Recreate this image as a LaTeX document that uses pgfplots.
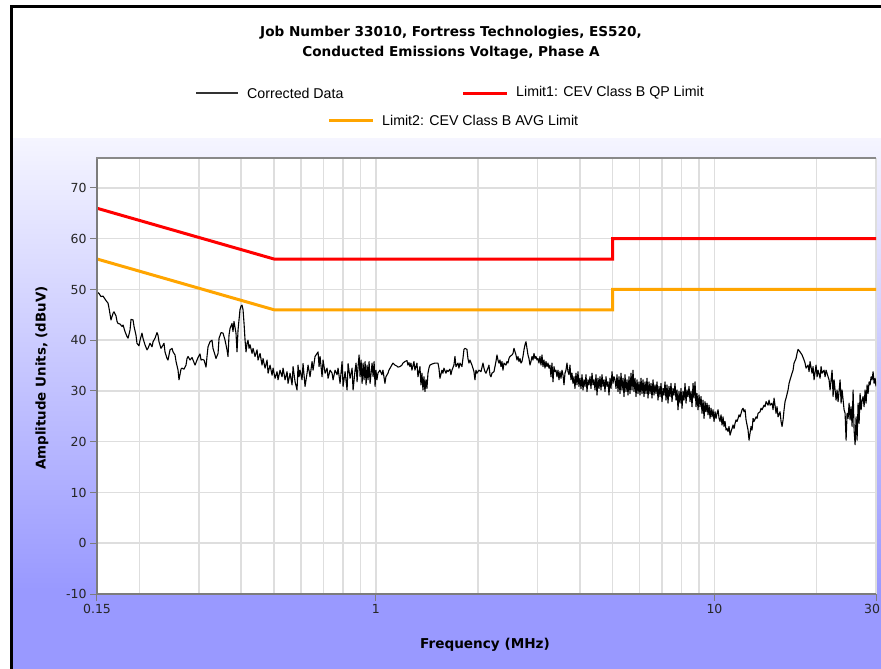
\documentclass[border=0pt]{standalone}
\usepackage{fontspec}
\setmainfont{Liberation Sans}
\newfontfamily\dvs{DejaVu Sans}
\usepackage{pgfplots}
\pgfplotsset{compat=1.18}

\definecolor{qpred}{HTML}{FF0000}
\definecolor{avgorange}{HTML}{FFA500}
\definecolor{gridgray}{HTML}{DEDEDE}
\definecolor{axgray}{HTML}{7C7C7C}
\definecolor{bgtop}{HTML}{F5F5FF}
\definecolor{bgbot}{HTML}{9999FF}

\begin{document}
\begin{tikzpicture}[x=1pt,y=1pt]
\useasboundingbox (0,0) rectangle (881,-669);
\begin{scope}
\clip (0,0) rectangle (881,-669);
\fill[white] (0,0) rectangle (881,-669);
% gradient panel below the legend
\shade[top color=bgtop, bottom color=bgbot] (13,-138) rectangle (881,-590);
\fill[bgbot] (13,-590) rectangle (881,-669);
% frame
\fill[black] (10,-5.5) rectangle (881,-8.5);
\fill[black] (10,-5.5) rectangle (13,-669);

% title
\node[font=\dvs\bfseries\fontsize{13.6}{20}\selectfont, align=center] at (451,-43)
  {Job Number 33010, Fortress Technologies, ES520,\\Conducted Emissions Voltage, Phase A};

% legend
\draw[black!80, line width=1.6pt] (196,-93) -- (238,-93);
\node[anchor=west, inner sep=0pt, font=\fontsize{14.2}{16}\selectfont] at (247,-93) {Corrected Data};
\draw[qpred, line width=3pt] (463,-93) -- (507,-93);
\node[anchor=west, inner sep=0pt, font=\fontsize{14.2}{16}\selectfont] at (516,-93) {Limit1: CEV Class B QP Limit};
\draw[avgorange, line width=3pt] (329,-120) -- (373,-120);
\node[anchor=west, inner sep=0pt, font=\fontsize{14.2}{16}\selectfont] at (382,-120) {Limit2: CEV Class B AVG Limit};

% axis labels
\node[font=\dvs\bfseries\fontsize{13.4}{16}\selectfont, rotate=90] at (42,-378) {Amplitude Units, (dBuV)};
\node[font=\dvs\bfseries\fontsize{13.6}{16}\selectfont] at (485,-645) {Frequency (MHz)};

\begin{axis}[
  at={(97pt,-594pt)}, anchor=south west,
  width=779pt, height=436pt, scale only axis,
  xmode=log,
  xmin=0.15, xmax=30, ymin=-10, ymax=75.9,
  xtick={0.15,1,10}, xticklabels={0.15,1,10},
  extra x ticks={30}, extra x tick labels={30},
  extra x tick style={xticklabel style={xshift=-4pt}},
  minor xtick={0.2,0.3,0.4,0.5,0.6,0.7,0.8,0.9,2,3,4,5,6,7,8,9,20},
  ytick={-10,0,10,20,30,40,50,60,70},
  yticklabels={-10,0,10,20,30,40,50,60,70},
  xmajorgrids, xminorgrids, ymajorgrids,
  major grid style={gridgray, line width=1.5pt},
  minor grid style={gridgray, line width=1.5pt},
  axis line style={draw=none},
  axis background/.style={fill=white},
  tick align=outside, xtick pos=bottom, ytick pos=left,
  major tick length=7pt, minor tick length=0pt,
  tick style={axgray, line width=1pt},
  ticklabel style={font=\dvs\fontsize{12.5}{14}\selectfont, text=black!85},
  /pgf/number format/assume math mode=true,
]
% corrected data
\addplot[black, line width=1.1pt, line join=round] coordinates {
(0.1500,49.5) (0.1521,49.2) (0.1541,48.6) (0.1563,48.7) (0.1595,47.8) (0.1617,47.3)
(0.1628,46.3) (0.1650,44.0) (0.1673,45.3) (0.1684,45.6) (0.1707,44.8) (0.1719,43.7)
(0.1731,43.3) (0.1754,43.2) (0.1779,42.7) (0.1791,43.0) (0.1815,41.7) (0.1840,40.7)
(0.1853,40.4) (0.1878,42.0) (0.1891,44.1) (0.1917,44.0) (0.1930,42.7) (0.1956,41.0)
(0.1969,39.4) (0.1996,38.9) (0.2010,40.0) (0.2037,41.4) (0.2051,40.4) (0.2079,39.1)
(0.2108,38.1) (0.2122,38.4) (0.2151,39.4) (0.2181,38.7) (0.2196,39.7) (0.2226,40.4)
(0.2256,41.5) (0.2271,41.0) (0.2287,39.7) (0.2318,38.4) (0.2334,38.7) (0.2366,39.4)
(0.2382,37.7) (0.2415,36.4) (0.2431,36.1) (0.2465,38.1) (0.2499,38.4) (0.2516,37.7)
(0.2550,37.1) (0.2568,35.8) (0.2603,34.1) (0.2620,32.2) (0.2656,34.3) (0.2674,34.5)
(0.2711,34.3) (0.2748,35.1) (0.2767,36.4) (0.2786,36.8) (0.2824,36.1) (0.2863,36.6)
(0.2882,36.1) (0.2922,35.1) (0.2942,35.6) (0.2982,36.6) (0.3023,37.3) (0.3044,36.1)
(0.3065,36.2) (0.3107,36.1) (0.3149,34.7) (0.3170,36.8) (0.3192,38.7) (0.3235,39.7)
(0.3280,40.0) (0.3302,38.4) (0.3347,37.1) (0.3370,36.4) (0.3417,37.4) (0.3441,40.4)
(0.3488,41.5) (0.3535,41.4) (0.3584,40.0)
(0.3632,38.1) (0.3657,36.8) (0.3682,41.0) (0.3707,42.3) (0.3758,43.3) (0.3783,41.7)
(0.3809,43.7) (0.3861,41.4) (0.3888,37.7) (0.3915,42.0) (0.3968,46.0) (0.3995,46.7)
(0.4023,46.9) (0.4050,46.0) (0.4078,43.3) (0.4106,40.0) (0.4134,37.7) (0.4162,39.4)
(0.4190,40.0) (0.4219,38.4) (0.4248,39.1) (0.4306,37.4) (0.4336,38.4) (0.4395,36.8)
(0.4455,38.1) (0.4485,36.1) (0.4547,37.4) (0.4609,35.1) (0.4641,36.4) (0.4704,34.5)
(0.4769,36.1) (0.4802,33.5) (0.4867,35.1) (0.4934,33.1) (0.4968,34.5) (0.5036,32.5)
(0.5104,33.8) (0.5139,32.2) (0.5209,34.1) (0.5281,32.8) (0.5317,34.5) (0.5390,32.2)
(0.5464,33.8) (0.5501,31.5) (0.5577,33.5) (0.5653,31.2) (0.5692,34.8) (0.5770,31.8)
(0.5848,30.2) (0.5888,35.1) (0.5928,32.8) (0.5969,34.1) (0.6050,32.2) (0.6092,35.4)
(0.6175,30.9) (0.6260,33.5) (0.6303,35.1) (0.6389,32.8) (0.6477,35.8) (0.6521,34.1)
(0.6610,36.8) (0.6701,37.4) (0.6747,37.7) (0.6793,34.8) (0.6839,36.8) (0.6933,32.8)
(0.6980,36.1) (0.7076,33.5) (0.7173,34.5) (0.7222,32.5) (0.7321,34.1) (0.7421,33.5)
(0.7472,32.2) (0.7574,34.1) (0.7678,33.2) (0.7730,34.5) (0.7836,31.5) (0.7944,35.8)
(0.7998,30.9) (0.8108,33.8) (0.8218,30.2) (0.8274,35.4) (0.8388,32.5) (0.8503,34.5)
(0.8561,30.2) (0.8678,34.1)
(0.8737,35.5) (0.8797,31.8) (0.8857,34.8) (0.8918,37.1) (0.8978,32.8) (0.9040,36.1)
(0.9102,31.5) (0.9164,35.5) (0.9226,32.2) (0.9289,35.8) (0.9353,31.2) (0.9416,35.1)
(0.9480,32.2) (0.9545,35.8) (0.9610,31.5) (0.9742,35.5) (0.9809,32.8) (0.9876,35.8)
(0.9943,30.9) (1.0000,34.1) (1.0068,32.2) (1.0137,33.5) (1.0276,34.1) (1.0417,33.2)
(1.0488,34.1) (1.0632,31.5) (1.0704,32.8) (1.0851,33.5) (1.0925,34.1) (1.1075,34.8)
(1.1226,35.5) (1.1380,35.1) (1.1536,34.9) (1.1615,34.7) (1.1774,34.8) (1.1936,35.1)
(1.2017,35.5) (1.2182,35.8) (1.2348,36.0) (1.2432,35.1) (1.2517,35.6) (1.2603,34.8)
(1.2689,35.5) (1.2775,34.1) (1.2950,35.8) (1.3039,34.1) (1.3218,35.5) (1.3308,32.8)
(1.3490,34.8) (1.3582,31.2) (1.3675,33.5) (1.3769,30.2) (1.3863,32.8) (1.3957,29.9)
(1.4052,32.2) (1.4148,30.5) (1.4245,33.5) (1.4342,34.5) (1.4440,35.1) (1.4638,35.3)
(1.4940,35.5) (1.5247,35.5) (1.5351,34.5) (1.5456,32.5) (1.5668,34.1) (1.5775,33.5)
(1.5883,34.5) (1.6100,33.5) (1.6210,34.1) (1.6321,33.8) (1.6544,34.3) (1.6657,33.2)
(1.6771,34.1) (1.7001,35.1) (1.7117,36.8) (1.7234,34.8) (1.7470,35.5) (1.7590,34.5)
(1.7710,35.5) (1.7952,34.8) (1.8075,36.4) (1.8199,38.2) (1.8323,38.4) (1.8573,38.2)
(1.8700,36.4) (1.8828,35.5) (1.8956,36.1) (1.9216,35.1) (1.9347,34.5) (1.9480,33.8)
(1.9612,32.2) (1.9746,34.1) (1.9881,33.5) (2.0153,34.1) (2.0430,33.8) (2.0710,35.5)
(2.0851,34.5)
(2.0994,33.8) (2.1136,33.5) (2.1426,34.5) (2.1572,35.1) (2.1719,33.2) (2.1868,32.8)
(2.2017,33.5) (2.2319,33.8) (2.2471,34.8) (2.2624,35.8) (2.2779,37.1) (2.2934,36.1)
(2.3091,35.5) (2.3248,36.1) (2.3407,34.8) (2.3567,35.8) (2.3728,34.1) (2.3890,35.5)
(2.4217,35.1) (2.4382,35.8) (2.4549,35.5) (2.4717,36.4) (2.4885,36.8) (2.5227,37.1)
(2.5399,37.4) (2.5572,38.4) (2.5922,37.1) (2.6099,36.1) (2.6277,36.8) (2.6457,35.8)
(2.6637,36.4) (2.6819,35.5) (2.7003,35.8) (2.7187,36.8) (2.7373,38.1) (2.7560,39.1)
(2.7747,39.7) (2.7937,38.4) (2.8127,37.1) (2.8319,36.4) (2.8513,35.1) (2.8708,35.8)
(2.8904,36.8) (2.9101,36.1) (2.9300,37.4) (2.9500,36.4) (2.9700,36.8) (2.9903,36.1)
(3.0107,36.4) (3.0313,35.5) (3.0520,36.8) (3.0728,35.1) (3.0938,37.1) (3.1149,34.8)
(3.1362,36.1) (3.1576,34.5) (3.1791,35.8) (3.2008,34.8) (3.2227,35.5) (3.2447,34.5)
(3.2668,35.1) (3.2892,32.8) (3.3116,35.5) (3.3343,31.8) (3.3570,34.8) (3.3800,33.8)
(3.4029,34.1) (3.4261,32.8) (3.4496,34.1) (3.4731,32.2) (3.4968,33.8) (3.5207,32.5)
(3.5448,34.1) (3.5690,33.2) (3.5934,31.2) (3.6179,33.5) (3.6425,34.1) (3.6674,35.5)
(3.6924,33.8) (3.7176,33.2) (3.7430,35.1) (3.7686,32.2) (3.7944,33.5) (3.8203,31.5)
(3.8464,32.8) (3.8726,30.5) (3.8990,33.5) (3.9256,31.2) (3.9525,33.8) (3.9794,30.9)
(4.0066,32.5) (4.0340,30.5) (4.0616,33.2) (4.0893,30.2) (4.1172,32.2) (4.1453,30.9)
(4.1734,33.2) (4.2019,29.9) (4.2306,32.2) (4.2595,31.2) (4.2886,32.8) (4.3179,30.5)
(4.3474,33.5) (4.3771,31.2) (4.4070,32.2) (4.4371,30.2) (4.4673,33.2) (4.4978,29.2)
(4.5285,32.5) (4.5595,30.5) (4.5906,32.8) (4.6220,30.2) (4.6535,33.2) (4.6853,30.9)
(4.7173,32.2) (4.7495,29.9) (4.7818,32.8) (4.8145,30.9) (4.8474,31.8) (4.8805,29.2)
(4.9138,32.5) (4.9473,30.5) (4.9812,33.8) (5.0152,31.5) (5.0494,32.8)
(5.0839,32.2) (5.1184,30.5) (5.1534,33.2) (5.1886,29.9) (5.2240,32.8) (5.2597,29.5)
(5.2956,33.5) (5.3318,30.2) (5.3682,32.5) (5.4049,28.9) (5.4418,33.2) (5.4788,29.9)
(5.5162,32.2) (5.5539,29.2) (5.5918,32.8) (5.6300,29.5) (5.6685,33.5) (5.7072,30.2)
(5.7462,34.1) (5.7854,29.9) (5.8250,32.5) (5.8645,28.9) (5.9046,32.2) (5.9449,29.5)
(5.9855,31.8) (6.0264,29.2) (6.0675,32.5) (6.1090,29.5) (6.1507,32.2) (6.1927,28.9)
(6.2350,31.8) (6.2774,29.5) (6.3203,32.5) (6.3635,28.6) (6.4069,31.8) (6.4507,29.5)
(6.4947,31.5) (6.5391,28.6) (6.5838,32.2) (6.6287,29.2) (6.6740,31.2) (6.7193,29.5)
(6.7652,31.8) (6.8114,28.2) (6.8579,30.9) (6.9048,28.9) (6.9519,31.5) (6.9994,27.9)
(7.0472,30.5) (7.0954,29.2) (7.1438,31.8) (7.1924,28.2) (7.2415,31.2) (7.2910,27.6)
(7.3408,30.9) (7.3909,28.9) (7.4414,31.5) (7.4923,27.9) (7.5434,30.5) (7.5950,29.2)
(7.6468,31.5) (7.6988,28.2) (7.7514,30.2) (7.8044,26.3) (7.8576,29.9) (7.9113,27.6)
(7.9653,30.5) (8.0198,26.6) (8.0745,29.9) (8.1297,28.2) (8.1852,31.5) (8.2408,27.6)
(8.2971,30.2) (8.3538,28.9) (8.4108,30.9) (8.4683,27.9) (8.5261,29.9) (8.5844,26.9)
(8.6430,31.5) (8.7020,28.6) (8.7615,31.8) (8.8209,26.9) (8.8811,29.5) (8.9418,26.3)
(9.0029,29.2) (9.0644,26.9) (9.1263,28.9) (9.1887,25.6) (9.2514,28.2) (9.3146,24.6)
(9.3782,27.9) (9.4420,25.9) (9.5065,27.6) (9.5714,25.3) (9.6368,27.2) (9.7026,24.6)
(9.7689,26.6) (9.8356,24.9) (9.9028,26.3) (9.9705,24.0) (10.039,25.9) (10.107,24.6)
(10.176,25.6) (10.246,26.3) (10.316,24.6) (10.386,24.0) (10.457,25.3) (10.528,23.3)
(10.600,24.9) (10.673,23.0) (10.746,24.0) (10.818,22.3) (10.892,22.6) (10.966,22.0)
(11.041,23.0) (11.117,21.3) (11.193,22.0) (11.269,22.6) (11.346,23.3) (11.423,22.6)
(11.501,23.6) (11.580,24.3) (11.659,24.0) (11.739,24.6) (11.819,25.3) (11.900,24.9)
(11.981,25.6) (12.063,26.3) (12.145,26.6) (12.228,25.9)
(12.312,26.3) (12.395,24.3) (12.565,22.3) (12.651,20.3) (12.737,21.7) (12.824,23.0)
(12.912,22.3) (13.000,24.6) (13.089,24.0) (13.268,24.9) (13.359,24.6) (13.450,25.6)
(13.634,25.9) (13.727,26.6) (13.821,26.3) (14.011,27.2) (14.106,26.9) (14.202,27.9)
(14.397,27.2) (14.495,28.2) (14.594,27.2) (14.794,27.6) (14.895,26.3) (14.997,28.6)
(15.202,25.6) (15.306,26.9) (15.410,24.9) (15.622,25.9) (15.728,24.0) (15.836,23.0)
(15.944,24.3) (16.053,26.3) (16.162,27.9) (16.272,28.6) (16.495,30.2) (16.608,31.5)
(16.721,32.2) (16.950,33.5) (17.066,34.1) (17.183,35.5) (17.418,36.4) (17.537,37.4)
(17.657,38.2) (17.899,37.7) (18.021,37.4) (18.144,37.1) (18.393,36.1) (18.518,35.5)
(18.644,34.5) (18.900,35.1) (19.029,33.8) (19.159,35.8) (19.421,33.5) (19.554,34.8)
(19.688,32.2) (19.957,35.1) (20.093,32.8) (20.231,34.1) (20.508,32.5) (20.648,34.8)
(20.789,33.5) (21.074,34.1) (21.218,32.8) (21.362,34.1) (21.655,32.8) (21.803,32.2)
(21.952,30.2) (22.253,34.1) (22.405,28.9) (22.558,32.2) (22.866,28.2) (23.022,30.2)
(23.179,27.9) (23.497,32.2) (23.658,27.6) (23.819,30.2) (24.146,26.3) (24.311,25.6)
(24.476,20.3) (24.643,25.6) (24.812,24.6) (24.981,27.6) (25.152,24.3) (25.323,26.9)
(25.496,23.0) (25.671,30.2) (25.846,22.3) (26.023,19.4) (26.199,24.9) (26.378,20.3)
(26.558,27.6) (26.739,23.6) (26.922,29.5) (27.106,26.3) (27.291,28.2) (27.478,28.9)
(27.665,26.9) (27.854,30.2) (28.043,27.6) (28.235,31.2) (28.427,29.5) (28.622,31.8)
(28.817,31.2) (29.014,32.8) (29.212,32.2) (29.412,33.8) (29.613,31.5) (29.815,32.5)
(30.000,30.9)
};
% Limit1: QP
\addplot[qpred, line width=3pt] coordinates {(0.15,66) (0.5,56) (5,56) (5,60) (30,60)};
% Limit2: AVG
\addplot[avgorange, line width=3pt] coordinates {(0.15,56) (0.5,46) (5,46) (5,50) (30,50)};
\end{axis}

% axis frame: dark on left, bottom, top
\draw[axgray, line width=2pt] (97,-157.5) -- (97,-594) -- (876,-594);
\draw[axgray!90, line width=1.5pt] (96,-158) -- (876,-158);
\end{scope}
\end{tikzpicture}
\end{document}
